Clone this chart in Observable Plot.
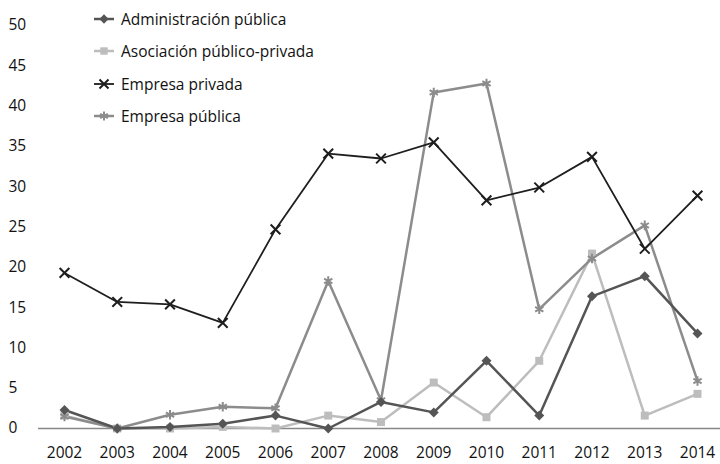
<!DOCTYPE html>
<html>
<head>
<meta charset="utf-8">
<script src="https://cdn.jsdelivr.net/npm/d3@7"></script>
<script src="https://cdn.jsdelivr.net/npm/@observablehq/plot@0.6"></script>
<style>
  html, body { margin: 0; padding: 0; background: #fff; }
  #wrap { position: relative; width: 720px; height: 464px; font-family: "Open Sans", sans-serif; }
  #legend { position: absolute; left: 92px; top: 3px; font-size: 15.5px; color: #111; }
  .item { display: flex; align-items: center; height: 32.3px; }
  .item svg { margin-right: 5px; }
</style>
</head>
<body>
<div id="wrap">
  <div id="chart"></div>
  <div id="legend"></div>
</div>
<script>
const years = [2002, 2003, 2004, 2005, 2006, 2007, 2008, 2009, 2010, 2011, 2012, 2013, 2014];
const seriesNames = ["Administración pública", "Asociación público-privada", "Empresa privada", "Empresa pública"];
const administracion = [2.3, 0, 0.2, 0.6, 1.6, 0, 3.3, 2.0, 8.4, 1.6, 16.4, 18.9, 11.8];
const asociacion = [1.6, 0, 0, 0.2, 0, 1.6, 0.8, 5.7, 1.4, 8.4, 21.7, 1.6, 4.3];
const empresaPrivada = [19.3, 15.7, 15.4, 13.1, 24.7, 34.1, 33.5, 35.5, 28.3, 29.9, 33.7, 22.3, 28.9];
const empresaPublica = [1.5, 0, 1.7, 2.7, 2.5, 18.3, 3.5, 41.7, 42.8, 14.8, 21.1, 25.2, 5.9];
const yTicks = [0, 5, 10, 15, 20, 25, 30, 35, 40, 45, 50];

const colors = ["#555555", "#bdbdbd", "#1e1e1e", "#8c8c8c"];
const symbols = ["diamond2", "square", "times", "asterisk"];
const widths = [2.5, 2.5, 1.8, 2.5];
const values = [administracion, asociacion, empresaPrivada, empresaPublica];

const data = [];
seriesNames.forEach((s, i) => years.forEach((y, j) => data.push({serie: s, year: y, value: values[i][j]})));

const marks = [
  Plot.ruleY([0], {stroke: "#888", strokeWidth: 1.3}),
  Plot.axisY({ticks: yTicks, tickSize: 0, tickPadding: 30, textAnchor: "start", fontSize: 15.5, label: null}),
  Plot.axisX({ticks: years, tickSize: 0, tickPadding: 18, tickFormat: d => String(d), fontSize: 15.5, label: null})
];
[1, 3, 0, 2].forEach(i => {
  const d = data.filter(r => r.serie === seriesNames[i]);
  marks.push(Plot.line(d, {x: "year", y: "value", stroke: colors[i], strokeWidth: widths[i]}));
});
[1, 3, 0, 2].forEach(i => {
  const d = data.filter(r => r.serie === seriesNames[i]);
  const filled = symbols[i] === "diamond2" || symbols[i] === "square";
  marks.push(Plot.dot(d, {
    x: "year", y: "value", symbol: () => symbols[i],
    r: 4.5,
    fill: filled ? colors[i] : "none",
    stroke: filled ? "none" : colors[i],
    strokeWidth: filled ? 0 : 2
  }));
});

const chart = Plot.plot({
  width: 720, height: 464,
  marginLeft: 38, marginRight: 0, marginTop: 25, marginBottom: 36,
  style: {fontFamily: "'Open Sans', sans-serif", color: "#111", background: "#fff"},
  x: {type: "linear", domain: [2002 - 26 / 52.75, 2014 + 23 / 52.75]},
  y: {domain: [0, 50]},
  symbol: {type: "identity"},
  marks
});
document.getElementById("chart").appendChild(chart);

const legend = d3.select("#legend");
seriesNames.forEach((s, i) => {
  const item = legend.append("div").attr("class", "item");
  const svg = item.append("svg").attr("width", 24).attr("height", 14);
  svg.append("line").attr("x1", 2).attr("x2", 22).attr("y1", 7).attr("y2", 7)
    .attr("stroke", colors[i]).attr("stroke-width", widths[i]);
  const sym = {diamond2: d3.symbolDiamond2, square: d3.symbolSquare, times: d3.symbolTimes, asterisk: d3.symbolAsterisk}[symbols[i]];
  const filled = symbols[i] === "diamond2" || symbols[i] === "square";
  svg.append("path").attr("transform", "translate(12,7)")
    .attr("d", d3.symbol(sym, 55)())
    .attr("fill", filled ? colors[i] : "none")
    .attr("stroke", filled ? "none" : colors[i])
    .attr("stroke-width", 2);
  item.append("span").text(s);
});
</script>
</body>
</html>
